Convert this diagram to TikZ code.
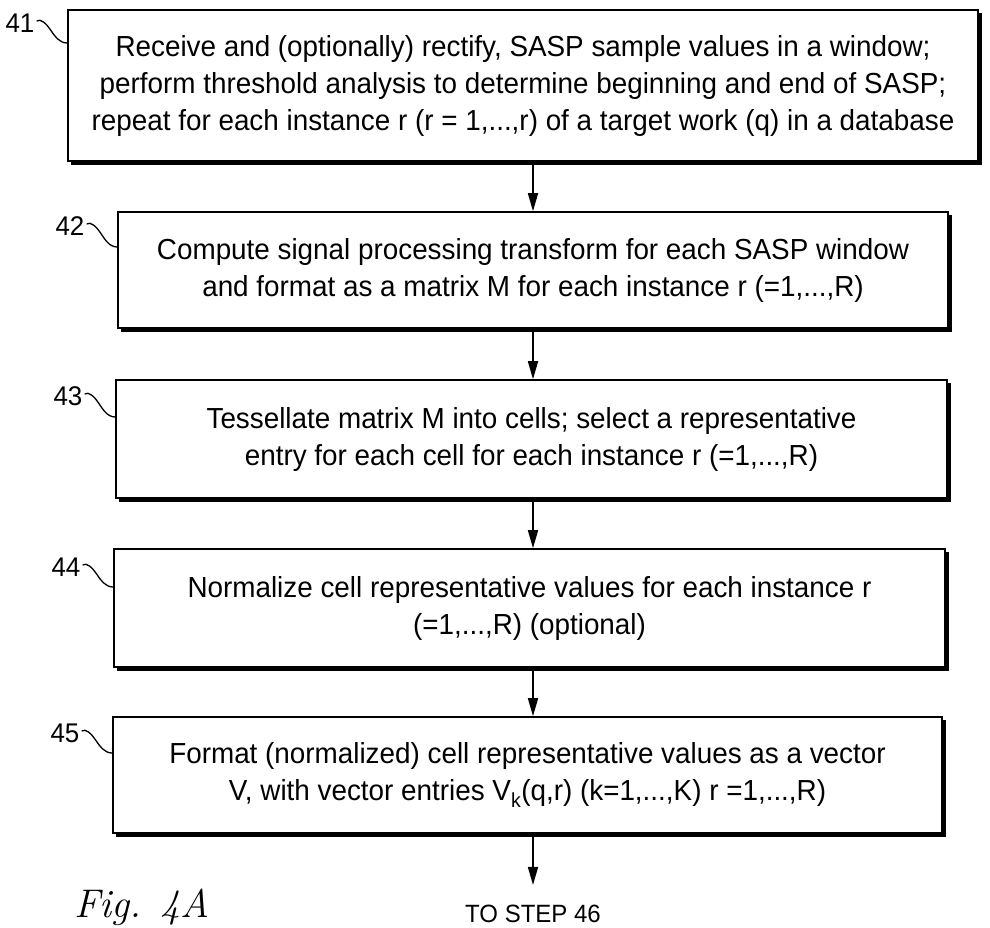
\documentclass[tikz,border=0pt]{standalone}
\usepackage{fontspec}
\setsansfont{Liberation Sans}[FakeStretch=0.96]
\usetikzlibrary{arrows.meta}
\begin{document}
\begin{tikzpicture}[x=1pt,y=1pt,
  stepbox/.style={draw, line width=1.6pt, align=center, inner sep=0pt, font=\sffamily\fontsize{29}{37}\selectfont},
  shadowline/.style={line width=3pt, line join=miter},
  lbl/.style={font=\sffamily\fontsize{27}{27}\selectfont, inner sep=0pt},
  lead/.style={line width=1.3pt},
  arr/.style={line width=1.6pt, -{Triangle[length=18pt,width=10pt]}}
]
\useasboundingbox (0,0) rectangle (990,-927);
\node[stepbox, minimum width=910pt, minimum height=151pt] (b41) at (523,-85.5)
  {Receive and (optionally) rectify, SASP sample values in a window;\\
   perform threshold analysis to determine beginning and end of SASP;\\
   repeat for each instance r (r = 1,...,r) of a target work (q) in a database};
\node[stepbox, minimum width=830pt, minimum height=116pt] (b42) at (533,-270)
  {Compute signal processing transform for each SASP window\\
   and format as a matrix M for each instance r (=1,...,R)};
\node[stepbox, minimum width=831pt, minimum height=118pt] (b43) at (531.5,-439)
  {Tessellate matrix M into cells; select a representative\\
   entry for each cell for each instance r (=1,...,R)};
\node[stepbox, minimum width=831pt, minimum height=118pt] (b44) at (529.5,-608)
  {Normalize cell representative values for each instance r\\
   (=1,...,R) (optional)};
\node[stepbox, minimum width=829pt, minimum height=116pt] (b45) at (527.5,-775)
  {Format (normalized) cell representative values as a vector\\
   V, with vector entries V\textsubscript{k}(q,r) (k=1,...,K) r =1,...,R)};
\foreach \n in {b41,b42,b43,b44,b45}{
  \draw[shadowline] ([shift={(4,-2)}]\n.south west) -- ([shift={(2,-2)}]\n.south east) -- ([shift={(2,-4)}]\n.north east);
}
\coordinate (ax) at (533,0);
\draw[arr] (b41.south -| ax) -- (b42.north -| ax);
\draw[arr] (b42.south -| ax) -- (b43.north -| ax);
\draw[arr] (b43.south -| ax) -- (b44.north -| ax);
\draw[arr] (b44.south -| ax) -- (b45.north -| ax);
\node[font=\sffamily\fontsize{25}{25}\selectfont, inner sep=0pt] (ts) at (533,-914) {TO STEP 46};
\draw[arr] (b45.south -| ax) -- ([yshift=20pt]ts.north);
\node[lbl] (l41) at (20,-23) {41};
\node[lbl] (l42) at (70,-226) {42};
\node[lbl] (l43) at (68,-396) {43};
\node[lbl] (l44) at (66,-567) {44};
\node[lbl] (l45) at (65,-733) {45};
\coordinate (e41) at (b41.west |- 0,-43);
\coordinate (e42) at (b42.west |- 0,-247);
\coordinate (e43) at (b43.west |- 0,-417);
\coordinate (e44) at (b44.west |- 0,-587);
\coordinate (e45) at (b45.west |- 0,-753);
\foreach \k in {41,42,43,44,45}{
  \draw[lead] ([shift={(2,2)}]l\k.east) .. controls +(4,3) and +(-4,6) .. ++(14,-9) .. controls +(4,-6) and +(-8,0) .. (e\k);
}
\node[anchor=base west, inner sep=0pt, font=\rmfamily\itshape\fontsize{40}{40}\selectfont] (fig) at (74,-917) {Fig. 4A};
\end{tikzpicture}
\end{document}
